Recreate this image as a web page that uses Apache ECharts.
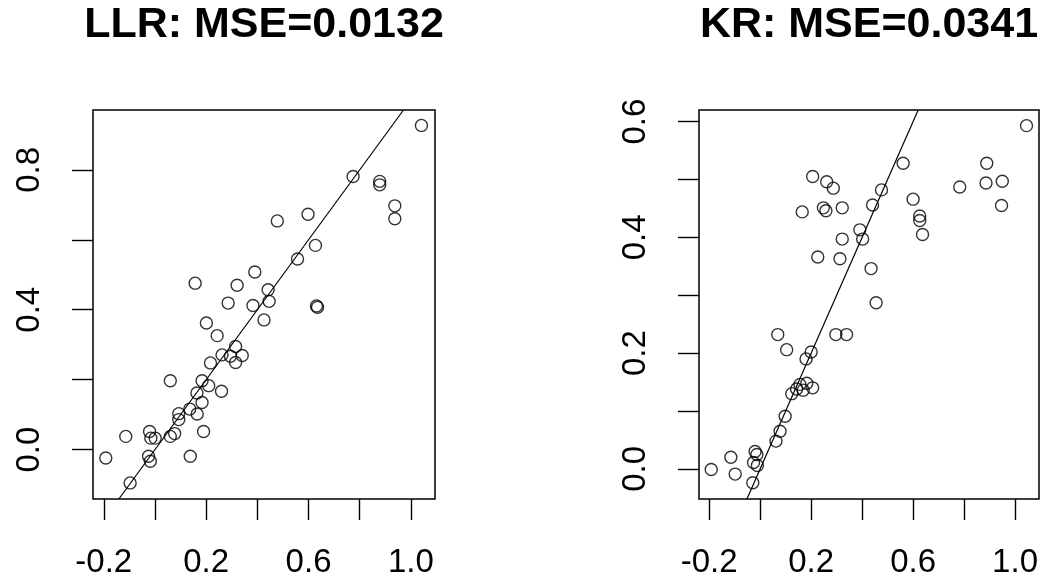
<!DOCTYPE html>
<html>
<head>
<meta charset="utf-8">
<title>LLR vs KR</title>
<script src="https://cdn.jsdelivr.net/npm/echarts@6/dist/echarts.min.js"></script>
<style>
  html, body { margin: 0; padding: 0; background: #fff; }
  #chart { width: 1053px; height: 584px; }
</style>
</head>
<body>
<div id="chart"></div>
<script>
;(function () {
  'use strict'

  // panel titles
  var titles = ['LLR: MSE=0.0132', 'KR: MSE=0.0341']

  // LLR panel
  var llrX = [1.041, 0.774, 0.878, 0.878, 0.937, 0.937, 0.478, 0.598, 0.627, 0.557,
    0.390, 0.157, 0.321, 0.442, 0.446, 0.383, 0.286, 0.631, 0.635, 0.426,
    0.201, 0.243, 0.315, 0.262, 0.295, 0.341, 0.315, 0.217, 0.060, 0.184,
    0.210, 0.260, 0.164, 0.184, 0.136, 0.093, 0.165, 0.093, 0.190, -0.021,
    -0.114, -0.016, 0.060, 0.077, 0.001, -0.192, 0.138, -0.025, -0.018, -0.097]
  var llrY = [0.927, 0.781, 0.767, 0.757, 0.697, 0.660, 0.654, 0.673, 0.584, 0.545,
    0.508, 0.476, 0.470, 0.457, 0.424, 0.412, 0.419, 0.411, 0.407, 0.371,
    0.362, 0.326, 0.295, 0.271, 0.267, 0.269, 0.249, 0.248, 0.197, 0.197,
    0.183, 0.167, 0.162, 0.135, 0.116, 0.103, 0.102, 0.086, 0.052, 0.052,
    0.038, 0.033, 0.038, 0.046, 0.033, -0.024, -0.019, -0.019, -0.033, -0.095]

  // KR panel
  var krX = [1.045, 0.889, 0.886, 0.950, 0.947, 0.783, 0.561, 0.600, 0.626, 0.626,
    0.637, 0.476, 0.441, 0.391, 0.402, 0.435, 0.455, 0.206, 0.261, 0.287,
    0.165, 0.248, 0.258, 0.322, 0.322, 0.226, 0.313, 0.069, 0.104, 0.297,
    0.339, 0.200, 0.180, 0.156, 0.183, 0.206, 0.169, 0.143, 0.124, 0.098,
    0.078, 0.062, -0.020, -0.013, -0.026, -0.011, -0.115, -0.098, -0.192, -0.029]
  var krY = [0.593, 0.528, 0.494, 0.497, 0.455, 0.487, 0.528, 0.466, 0.437, 0.429,
    0.405, 0.482, 0.456, 0.413, 0.397, 0.346, 0.287, 0.505, 0.496, 0.485,
    0.444, 0.451, 0.446, 0.451, 0.397, 0.366, 0.363, 0.232, 0.206, 0.232,
    0.232, 0.202, 0.190, 0.146, 0.148, 0.140, 0.136, 0.138, 0.130, 0.091,
    0.065, 0.048, 0.030, 0.025, 0.011, 0.006, 0.020, -0.009, -0.001, -0.024]

  // ticks and labels
  var xTicks = [-0.2, 0, 0.2, 0.4, 0.6, 0.8, 1.0]
  var xLabels = [-0.2, 0.2, 0.6, 1.0]
  var llrYTicks = [0, 0.2, 0.4, 0.6, 0.8]
  var llrYLabels = [0, 0.4, 0.8]
  var krYTicks = [0, 0.1, 0.2, 0.3, 0.4, 0.5, 0.6]
  var krYLabels = [0, 0.2, 0.4, 0.6]

  var FONT = 'Liberation Sans, Arial, Helvetica, sans-serif'
  var INK = '#000'

  var panels = [
    { left: 93, width: 342, xMin: -0.242, xMax: 1.094, yMin: -0.141, yMax: 0.971,
      xs: llrX, ys: llrY, yTicks: llrYTicks, yLabels: llrYLabels },
    { left: 699, width: 340, xMin: -0.240, xMax: 1.094, yMin: -0.052, yMax: 0.620,
      xs: krX, ys: krY, yTicks: krYTicks, yLabels: krYLabels }
  ]

  function zip(a, b) {
    var out = []
    for (var i = 0; i < a.length; i++) out.push([a[i], b[i]])
    return out
  }

  function fmt(v) { return Number(v).toFixed(1) }

  function axisCommon(min, max, ticks, labels, rotate) {
    return {
      type: 'value',
      min: min,
      max: max,
      axisLine: { show: false, onZero: false },
      splitLine: { show: false },
      axisTick: { show: true, inside: false, length: 21, customValues: ticks,
        lineStyle: { color: INK, width: 1.4 } },
      axisLabel: { show: true, customValues: labels, formatter: fmt, rotate: rotate,
        margin: 47, color: INK, fontFamily: FONT, fontSize: 33 }
    }
  }

  var grid = [], xAxis = [], yAxis = [], series = [], title = []
  panels.forEach(function (p, i) {
    grid.push({ left: p.left, width: p.width, top: 110, height: 389, show: true,
      borderColor: INK, borderWidth: 1.5, backgroundColor: 'transparent' })
    xAxis.push(Object.assign(axisCommon(p.xMin, p.xMax, xTicks, xLabels, 0),
      { gridIndex: i, position: 'bottom' }))
    yAxis.push(Object.assign(axisCommon(p.yMin, p.yMax, p.yTicks, p.yLabels, 90),
      { gridIndex: i, position: 'left' }))
    title.push({ text: titles[i], left: p.left + p.width / 2, top: 4, textAlign: 'center', padding: 0,
      textStyle: { fontFamily: FONT, fontWeight: 'bold', fontSize: 43, color: INK } })

    // y = x reference line, kept inside the box
    var lo = Math.max(p.xMin, p.yMin), hi = Math.min(p.xMax, p.yMax)
    series.push({ type: 'line', xAxisIndex: i, yAxisIndex: i, data: [[lo, lo], [hi, hi]],
      symbol: 'none', silent: true, lineStyle: { color: INK, width: 1.2 } })
    series.push({ type: 'scatter', xAxisIndex: i, yAxisIndex: i, data: zip(p.xs, p.ys),
      symbol: 'circle', symbolSize: 12, silent: true,
      itemStyle: { color: 'transparent', borderColor: INK, borderWidth: 1.4 } })
  })

  var chart = echarts.init(document.getElementById('chart'), null, { renderer: 'canvas' })
  chart.setOption({
    animation: false,
    backgroundColor: '#fff',
    title: title,
    grid: grid,
    xAxis: xAxis,
    yAxis: yAxis,
    series: series
  })
})()
</script>
</body>
</html>
